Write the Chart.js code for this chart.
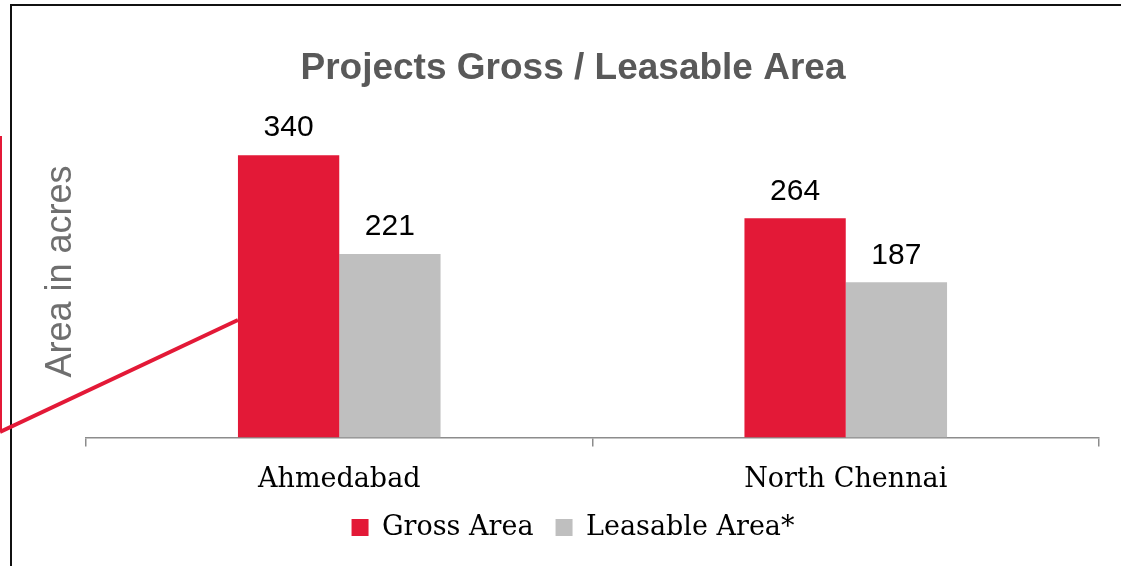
<!DOCTYPE html>
<html>
<head>
<meta charset="utf-8">
<script src="https://cdn.jsdelivr.net/npm/chart.js@4"></script>
<style>
  html, body { margin: 0; padding: 0; background: #fff; }
  #wrap { position: relative; width: 1121px; height: 566px; }
</style>
</head>
<body>
<div id="wrap"><canvas id="bar" width="1121" height="566"></canvas></div>
<script>
const categories = ['Ahmedabad', 'North Chennai'];
const grossArea = [340, 264];
const leasableArea = [221, 187];
const seriesNames = ['Gross Area', 'Leasable Area*'];

const red = '#E31937';
const grey = '#BFBFBF';

// value labels over each bar
const barLabels = {
  id: 'barLabels',
  afterDatasetsDraw(chart) {
    const ctx = chart.ctx;
    ctx.save();
    ctx.font = '30px "Liberation Sans", Arial, sans-serif';
    ctx.fillStyle = '#000';
    ctx.textAlign = 'center';
    ctx.textBaseline = 'bottom';
    chart.data.datasets.forEach((ds, i) => {
      chart.getDatasetMeta(i).data.forEach((bar, j) => {
        ctx.fillText(ds.data[j], bar.x, bar.y - 12);
      });
    });
    ctx.restore();
  }
};

// slide frame + red connector lines
const decor = {
  id: 'decor',
  beforeDraw(chart) {
    const ctx = chart.ctx;
    ctx.save();
    ctx.strokeStyle = '#111';
    ctx.lineWidth = 2;
    ctx.beginPath();
    ctx.moveTo(10, 5);
    ctx.lineTo(chart.width, 5);
    ctx.moveTo(11, 5);
    ctx.lineTo(11, chart.height);
    ctx.stroke();
    ctx.restore();
  },
  afterDatasetsDraw(chart) {
    const ctx = chart.ctx;
    const first = chart.getDatasetMeta(0).data[0];
    ctx.save();
    ctx.strokeStyle = red;
    ctx.lineWidth = 2;
    ctx.beginPath();
    ctx.moveTo(1, 136);
    ctx.lineTo(1, 432);
    ctx.stroke();
    ctx.lineWidth = 4;
    ctx.beginPath();
    ctx.moveTo(0, 432);
    ctx.lineTo(first.x - first.width / 2, 320);
    ctx.stroke();
    ctx.restore();
  }
};

new Chart(document.getElementById('bar'), {
  type: 'bar',
  data: {
    labels: categories,
    datasets: [{
      label: seriesNames[0],
      data: grossArea,
      backgroundColor: red,
      categoryPercentage: 0.4,
      barPercentage: 1
    }, {
      label: seriesNames[1],
      data: leasableArea,
      backgroundColor: grey,
      categoryPercentage: 0.4,
      barPercentage: 1
    }]
  },
  options: {
    responsive: false,
    animation: false,
    devicePixelRatio: 1,
    layout: {
      padding: { left: 47, right: 22, top: 0, bottom: 15 }
    },
    scales: {
      x: {
        grid: { drawOnChartArea: false, tickLength: 9, color: '#8c8c8c', lineWidth: 1.5 },
        border: { color: '#8c8c8c', width: 1.5 },
        ticks: {
          color: '#000',
          padding: 17,
          font: { family: '"DejaVu Serif", serif', size: 27 }
        },
        // trim the spare space under the category labels
        afterFit(axis) { axis.height -= 21; }
      },
      y: {
        min: 0,
        max: 400,
        grid: { display: false, drawTicks: false },
        border: { display: false },
        ticks: { display: false },
        title: {
          display: true,
          text: 'Area in acres',
          color: '#6f6f6f',
          font: { family: '"Liberation Sans", Arial, sans-serif', size: 36, lineHeight: 1 },
          // pulled left so the title block sits where the slide had it
          padding: { top: -4, bottom: 7 }
        }
      }
    },
    plugins: {
      title: {
        display: true,
        text: 'Projects Gross / Leasable Area',
        color: '#595959',
        font: { family: '"Liberation Sans", Arial, sans-serif', size: 37, weight: 'bold' },
        padding: { top: 47, bottom: 14 }
      },
      legend: {
        position: 'bottom',
        labels: {
          color: '#000',
          boxWidth: 17,
          boxHeight: 17,
          padding: 22,
          font: { family: '"DejaVu Serif", serif', size: 27 }
        }
      },
      tooltip: { enabled: false }
    }
  },
  plugins: [barLabels, decor]
});
</script>
</body>
</html>
